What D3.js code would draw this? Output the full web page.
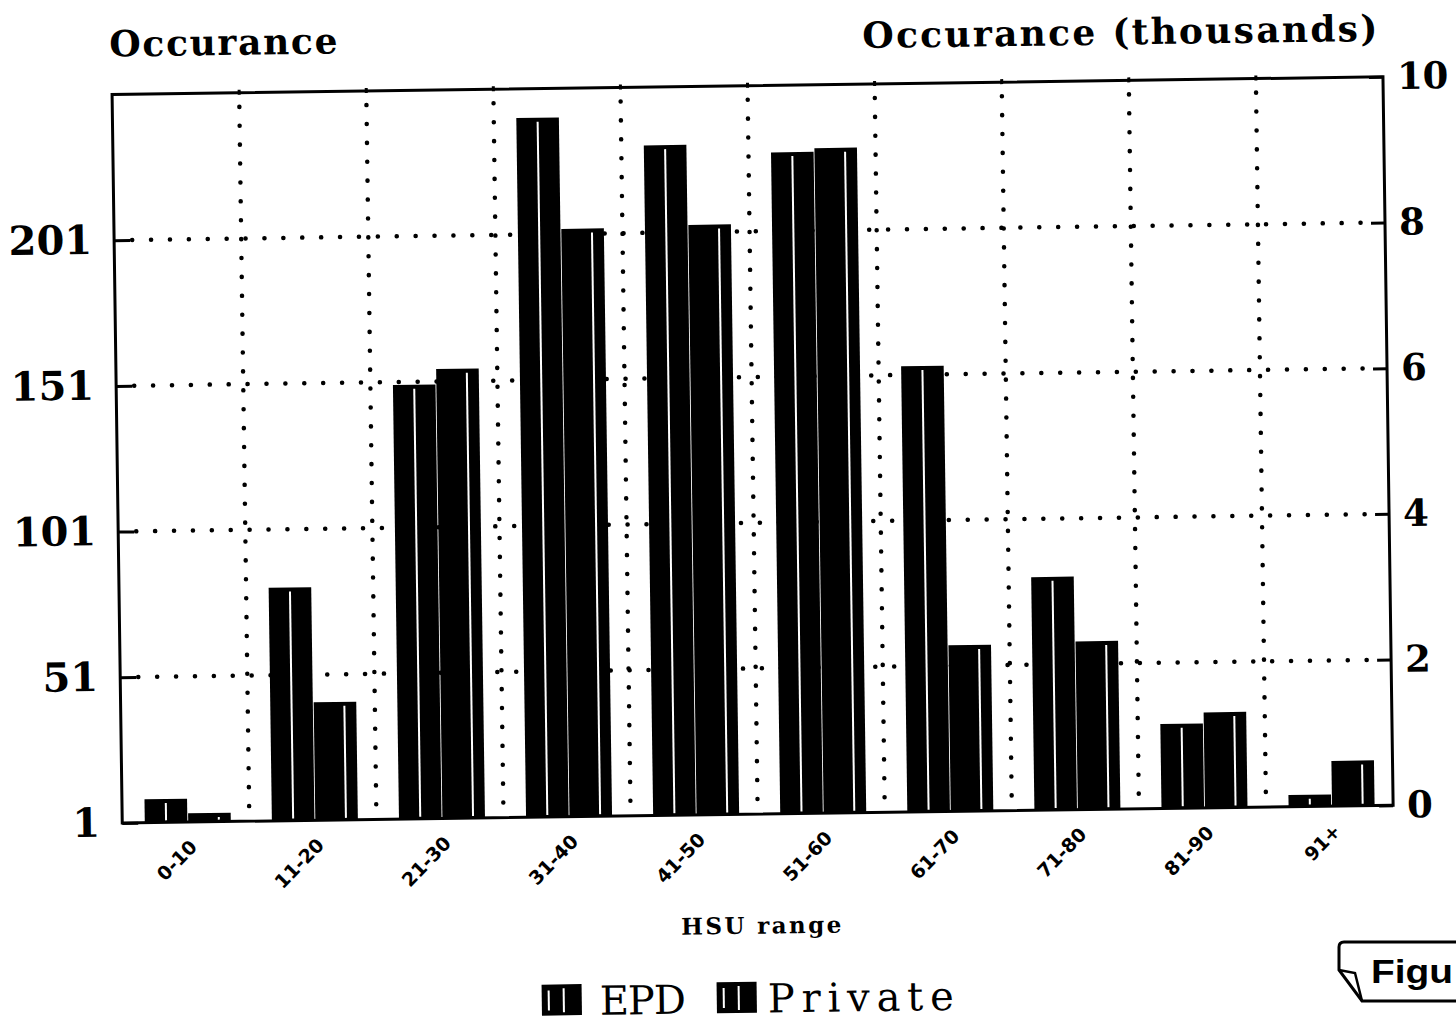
<!DOCTYPE html>
<html>
<head>
<meta charset="utf-8">
<script src="https://cdn.jsdelivr.net/npm/d3@7"></script>
<style>
  html, body { margin: 0; padding: 0; background: #fff; }
  svg { display: block; }
</style>
</head>
<body>
<svg id="chart" width="1456" height="1028"></svg>
<script>
// ---- data ----
const categories = ["0-10", "11-20", "21-30", "31-40", "41-50", "51-60", "61-70", "71-80", "81-90", "91+"];
const epdValues = [9, 81, 150, 241, 231, 228, 154, 81, 30, 5];               // left axis (count)
const privateValues = [0.12, 1.62, 6.17, 8.07, 8.1, 9.13, 2.28, 2.31, 1.31, 0.62]; // right axis (thousands)
const leftTicks = [1, 51, 101, 151, 201];
const rightTicks = [0, 2, 4, 6, 8, 10];
const seriesNames = ["EPD", "Private"];

// ---- layout ----
const L = 118, R = 1389, T = 86, B = 814.5;
const svg = d3.select("#chart");
const g = svg.append("g").attr("transform", "rotate(-0.8, 728, 514)");

const x = d3.scaleBand().domain(categories).range([L, R]).paddingInner(0).paddingOuter(0);
const groupW = 86;
const xSub = d3.scaleBand().domain(seriesNames).range([0, groupW]).paddingInner(0.02);
const yLeft = d3.scaleLinear().domain([1, 251]).range([B, T]);
const yRight = d3.scaleLinear().domain([0, 10]).range([B, T]);

const serif = "'DejaVu Serif', 'Liberation Serif', serif";

// gridlines (dotted)
const dotStyle = sel => sel.attr("stroke", "#000").attr("stroke-width", 4.5)
  .attr("stroke-linecap", "round").attr("stroke-dasharray", "0.1 18.8");

g.append("g").selectAll("line").data(leftTicks.filter(d => d !== 1)).join("line")
  .attr("x1", L + 18).attr("x2", R - 14)
  .attr("y1", d => yLeft(d)).attr("y2", d => yLeft(d))
  .call(dotStyle);

const boundaries = categories.slice(1);
g.append("g").selectAll("line").data(boundaries).join("line")
  .attr("x1", d => x(d)).attr("x2", d => x(d))
  .attr("y1", T + 14).attr("y2", B - 4)
  .call(dotStyle);

// small ticks on top frame at boundaries
g.append("g").selectAll("line").data(boundaries).join("line")
  .attr("x1", d => x(d)).attr("x2", d => x(d))
  .attr("y1", T - 3).attr("y2", T + 2)
  .attr("stroke", "#000").attr("stroke-width", 3);

// bars
const gx = d => x(d) + (x.bandwidth() - groupW) / 2 + 2;
const bars = g.append("g");
categories.forEach((c, i) => {
  const vals = [
    { s: "EPD", y: yLeft(epdValues[i]), stripe: 0.5 },
    { s: "Private", y: yRight(privateValues[i]), stripe: 0.72 }
  ];
  vals.forEach(v => {
    const bx = gx(c) + xSub(v.s);
    const bw = xSub.bandwidth();
    bars.append("rect")
      .attr("x", bx).attr("y", v.y)
      .attr("width", bw).attr("height", B - v.y)
      .attr("fill", "#000");
    if (B - v.y > 8) {
      bars.append("line")
        .attr("x1", bx + bw * v.stripe).attr("x2", bx + bw * v.stripe)
        .attr("y1", v.y + 4).attr("y2", B - 2)
        .attr("stroke", "#fff").attr("stroke-width", 2);
    }
  });
});

// frame
g.append("rect").attr("x", L).attr("y", T).attr("width", R - L).attr("height", B - T)
  .attr("fill", "none").attr("stroke", "#000").attr("stroke-width", 3);

// left axis
const axL = g.append("g").attr("transform", `translate(${L},0)`)
  .call(d3.axisLeft(yLeft).tickValues(leftTicks).tickSize(-16).tickPadding(22).tickFormat(d3.format("d")));
axL.select(".domain").remove();
axL.selectAll(".tick line").attr("stroke-width", 3);
axL.selectAll(".tick text").attr("font-family", serif).attr("font-weight", "bold")
  .attr("font-size", 40).attr("fill", "#000");

// right axis
const axR = g.append("g").attr("transform", `translate(${R},0)`)
  .call(d3.axisRight(yRight).tickValues(rightTicks).tickSize(-14).tickPadding(14).tickFormat(d3.format("d")));
axR.select(".domain").remove();
axR.selectAll(".tick line").attr("stroke-width", 3);
axR.selectAll(".tick text").attr("font-family", serif).attr("font-weight", "bold")
  .attr("font-size", 37).attr("fill", "#000");

// bottom axis labels
const axB = g.append("g").attr("transform", `translate(0,${B})`)
  .call(d3.axisBottom(x).tickSize(0).tickPadding(0));
axB.select(".domain").remove();
axB.selectAll(".tick text")
  .attr("font-family", "'DejaVu Sans', sans-serif").attr("font-weight", "bold")
  .attr("font-size", 19).attr("fill", "#000")
  .attr("text-anchor", "end").attr("dy", 0)
  .attr("transform", "translate(12,26) rotate(-45)");

// titles
g.append("text").attr("x", 116).attr("y", 48).text("Occurance")
  .attr("font-family", serif).attr("font-weight", "bold").attr("font-size", 36)
  .attr("textLength", 228).attr("lengthAdjust", "spacing");
g.append("text").attr("x", 869).attr("y", 50).text("Occurance (thousands)")
  .attr("font-family", serif).attr("font-weight", "bold").attr("font-size", 36)
  .attr("textLength", 515).attr("lengthAdjust", "spacing");

// x axis title
g.append("text").attr("x", (L + R) / 2 + 2).attr("y", 934).text("HSU range")
  .attr("text-anchor", "middle")
  .attr("font-family", serif).attr("font-weight", "bold").attr("font-size", 23)
  .attr("textLength", 160).attr("lengthAdjust", "spacing");

// legend
const legend = g.append("g");
const legendItems = [
  { name: "EPD", sx: 535, tx: 593, tl: 86 },
  { name: "Private", sx: 710, tx: 761, tl: 186 }
];
legendItems.forEach(it => {
  legend.append("rect").attr("x", it.sx).attr("y", 982).attr("width", 40).attr("height", 31).attr("fill", "#000");
  legend.append("line").attr("x1", it.sx + 7).attr("x2", it.sx + 7).attr("y1", 988).attr("y2", 1008)
    .attr("stroke", "#fff").attr("stroke-width", 2);
  legend.append("line").attr("x1", it.sx + 22).attr("x2", it.sx + 22).attr("y1", 986).attr("y2", 1010)
    .attr("stroke", "#fff").attr("stroke-width", 2);
  legend.append("text").attr("x", it.tx).attr("y", 1013).text(it.name)
    .attr("font-family", serif).attr("font-size", 40)
    .attr("textLength", it.tl).attr("lengthAdjust", "spacing");
});

// "Figu" tab at bottom right
const tab = svg.append("g");
tab.append("path")
  .attr("d", "M1456,942 L1344,942 Q1339,942 1339,947 L1339,970 L1362,1001 L1456,1001")
  .attr("fill", "#fff").attr("stroke", "#000").attr("stroke-width", 3);
tab.append("path").attr("d", "M1339,970 L1355,973 L1362,1001")
  .attr("fill", "none").attr("stroke", "#000").attr("stroke-width", 2.5);
tab.append("text").attr("x", 1371).attr("y", 983).text("Figu")
  .attr("font-family", "'Liberation Sans', Arial, sans-serif").attr("font-weight", "bold").attr("font-size", 33)
  .attr("textLength", 82).attr("lengthAdjust", "spacingAndGlyphs");
</script>
</body>
</html>
